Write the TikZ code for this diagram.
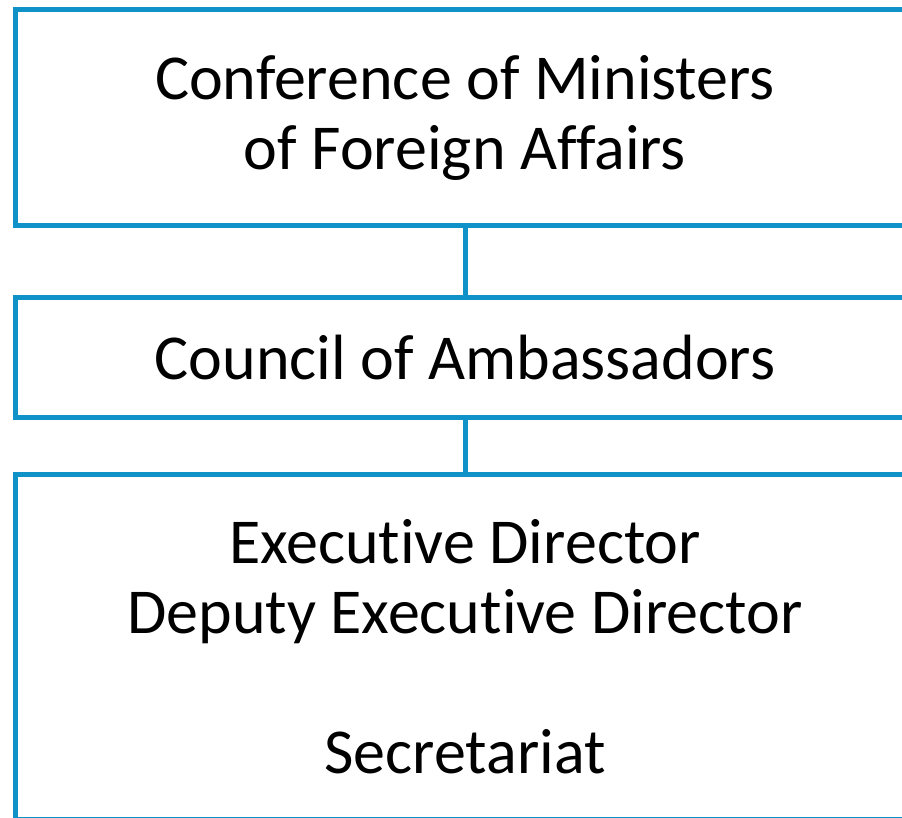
\documentclass[tikz,border=0pt]{standalone}
\usepackage{fontspec}
\setmainfont{Carlito}[Ligatures=NoCommon]
\usetikzlibrary{positioning}
\definecolor{orgblue}{RGB}{14,146,199}

\begin{document}
\begin{tikzpicture}[x=1pt, y=-1pt, node distance=72pt,
        orgbox/.style={draw=orgblue, line width=5pt, minimum width=900pt,
        outer sep=0pt, align=center, font=\fontsize{64}{70}\selectfont}]
        \useasboundingbox (0,0) rectangle (902,818);
        \clip (0,0) rectangle (902,818);

        \node [orgbox, minimum height=216pt] (conf) at (465,117.5) {Conference of Ministers\\of Foreign Affairs};
        \node [orgbox, minimum height=120pt, below = of conf] (council) {Council of Ambassadors};
        \node [orgbox, minimum height=345pt, below = 57pt of council] (exec) {Executive Director\\Deputy Executive Director\\[70pt]Secretariat};

        \draw [orgblue, line width=5pt] (conf)--(council);
        \draw [orgblue, line width=5pt] (council)--(exec);
    \end{tikzpicture}
\end{document}
